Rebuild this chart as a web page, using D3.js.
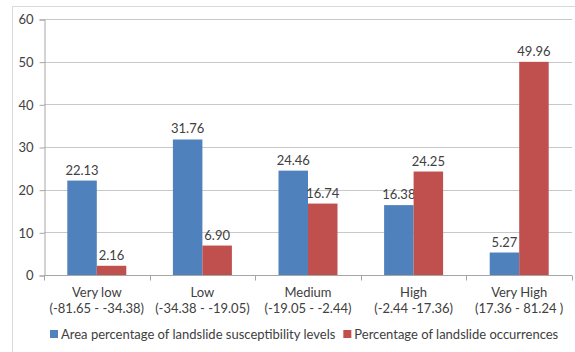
<!DOCTYPE html>
<html>
<head>
<meta charset="utf-8">
<script src="https://cdn.jsdelivr.net/npm/d3@7"></script>
<style>
  html, body { margin: 0; padding: 0; background: #fff; }
  svg { display: block; font-family: Lato, "Open Sans", sans-serif; }
</style>
</head>
<body>
<svg id="chart" width="575" height="352"></svg>
<script>
// Susceptibility classes with their index ranges
const categories = ["Very low", "Low", "Medium", "High", "Very High"];
const ranges = ["(-81.65 - -34.38)", "(-34.38 - -19.05)", "(-19.05 - -2.44)", "(-2.44 -17.36)", "(17.36 - 81.24 )"];
const seriesNames = ["Area percentage of landslide susceptibility levels", "Percentage of landslide occurrences"];
const areaPct = [22.13, 31.76, 24.46, 16.38, 5.27];
const occurrencePct = [2.16, 6.90, 16.74, 24.25, 49.96];
const yTicks = [0, 10, 20, 30, 40, 50, 60];
const colors = ["#4F81BD", "#C0504D"];

const svg = d3.select("#chart");
const margin = { left: 44, right: 3, top: 19, bottom: 77 };
const W = 575, H = 352;
const fs = "13px";

const x = d3.scaleBand().domain(categories).range([margin.left, W - margin.right]).paddingInner(0).paddingOuter(0);
const y = d3.scaleLinear().domain([0, 60]).range([H - margin.bottom, margin.top]);

// outer frame (left and top edges)
svg.append("path")
  .attr("d", `M12.5,${H} V6.5 H${W}`)
  .attr("fill", "none").attr("stroke", "#d9d9d9").attr("stroke-width", 1);

// gridlines
svg.append("g").selectAll("line").data(yTicks.filter(d => d > 0)).join("line")
  .attr("x1", margin.left).attr("x2", W - margin.right)
  .attr("y1", d => Math.round(y(d)) + 0.5).attr("y2", d => Math.round(y(d)) + 0.5)
  .attr("stroke", "#c8c8c8").attr("stroke-width", 1);

// y axis
const yAxis = svg.append("g").attr("transform", `translate(${margin.left + 0.5},0.5)`)
  .call(d3.axisLeft(y).tickValues(yTicks).tickSize(5).tickPadding(6));
yAxis.select(".domain").attr("stroke", "#a6a6a6");
yAxis.selectAll(".tick line").attr("stroke", "#a6a6a6");
yAxis.selectAll("text").attr("fill", "#404040").style("font-size", fs).style("font-family", "Lato, sans-serif");

// x axis baseline with category ticks
const xAxis = svg.append("g").attr("transform", `translate(0,${Math.round(y(0)) + 0.5})`);
xAxis.append("line").attr("x1", margin.left).attr("x2", W - margin.right).attr("stroke", "#a6a6a6");
xAxis.selectAll("line.t").data(d3.range(categories.length + 1)).join("line").attr("class", "t")
  .attr("x1", i => Math.round(margin.left + i * x.bandwidth()) + 0.5)
  .attr("x2", i => Math.round(margin.left + i * x.bandwidth()) + 0.5)
  .attr("y1", 0).attr("y2", 5).attr("stroke", "#a6a6a6");

// category labels (two lines)
const lab = svg.append("g").selectAll("text").data(categories).join("text")
  .attr("text-anchor", "middle").attr("fill", "#404040").style("font-size", fs);
lab.append("tspan").attr("x", d => x(d) + x.bandwidth() / 2).attr("y", 297).text(d => d);
lab.append("tspan").attr("x", d => x(d) + x.bandwidth() / 2).attr("y", 313).text((d, i) => ranges[i]);

// bars
const barW = 29.5;
const series = [areaPct, occurrencePct];
series.forEach((vals, s) => {
  const g = svg.append("g");
  g.selectAll("rect").data(vals).join("rect")
    .attr("x", (d, i) => x(categories[i]) + x.bandwidth() / 2 - barW + s * barW)
    .attr("width", barW)
    .attr("y", d => y(d))
    .attr("height", d => y(0) - y(d))
    .attr("fill", colors[s]);
  g.selectAll("text").data(vals).join("text")
    .attr("x", (d, i) => x(categories[i]) + x.bandwidth() / 2 - barW / 2 + s * barW)
    .attr("y", d => y(d) - 6)
    .attr("text-anchor", "middle").attr("fill", "#404040").style("font-size", fs)
    .text(d => d.toFixed(2));
});

// legend
const leg = svg.append("g").attr("transform", "translate(0,334)");
let lx = 50;
seriesNames.forEach((name, i) => {
  leg.append("rect").attr("x", lx).attr("y", -4).attr("width", 8).attr("height", 8).attr("fill", colors[i]);
  const t = leg.append("text").attr("x", lx + 11).attr("y", 4.5).attr("fill", "#404040")
    .style("font-size", fs).text(name);
  lx += 11 + t.node().getComputedTextLength() + 8;
});
</script>
</body>
</html>
